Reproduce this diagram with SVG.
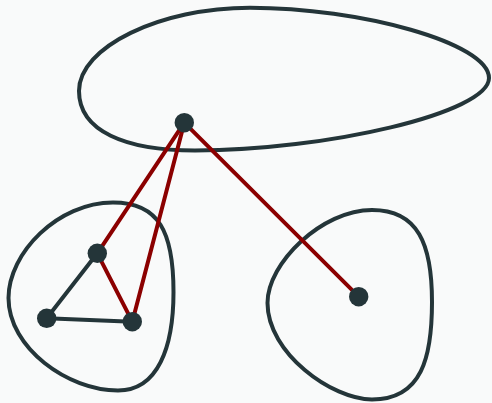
<svg xmlns="http://www.w3.org/2000/svg" width="492" height="403" viewBox="0 0 492 403">
<style>
.blob{fill:none;stroke:#243539;stroke-width:4}
.e{stroke-width:4;stroke-linecap:round}
.red{stroke:#8b0000}
.dark{stroke:#243539}
.node{fill:#243539}
</style>
<rect width="492" height="403" fill="#f9fafa"/>
<g id="blobs">
<path id="blob-top" class="blob" d="M 79,91 C 79,47 160,7.7 250,7.7 C 360,7.7 489,43 489,78 C 489,113 325,150.5 195,150.5 C 125,150.5 79,131 79,91 Z"/>
<path id="blob-left" class="blob" d="M 113,202.5 C 159,202.5 173.5,232 173.5,292 C 173.5,347 158,390.5 118,390.5 C 68,390.5 8.5,348 8.5,298 C 8.5,253 58,202.5 113,202.5 Z"/>
<path id="blob-right" class="blob" d="M 372,210 C 418,210 432,244 432,302 C 432,357 422,399.5 372,399.5 C 332,399.5 267.5,353 267.5,303 C 267.5,263 322,210 372,210 Z"/>
</g>
<g id="connectors">
<line class="e red" x1="184.3" y1="122.7" x2="97.3" y2="253.3"/>
<line class="e red" x1="184.3" y1="122.7" x2="132.3" y2="321.7"/>
<line class="e red" x1="184.3" y1="122.7" x2="358.7" y2="296.7"/>
<line class="e red" x1="97.3" y1="253.3" x2="132.3" y2="321.7"/>
<line class="e dark" x1="97.3" y1="253.3" x2="46.7" y2="318.3"/>
<line class="e dark" x1="46.7" y1="318.3" x2="132.3" y2="321.7"/>
</g>
<g id="n1"><circle class="node" cx="184.3" cy="122.7" r="9.7"/></g>
<g id="n2"><circle class="node" cx="97.3" cy="253.3" r="9.7"/></g>
<g id="n3"><circle class="node" cx="46.7" cy="318.3" r="9.7"/></g>
<g id="n4"><circle class="node" cx="132.3" cy="321.7" r="9.7"/></g>
<g id="n5"><circle class="node" cx="358.7" cy="296.7" r="9.7"/></g>
</svg>
